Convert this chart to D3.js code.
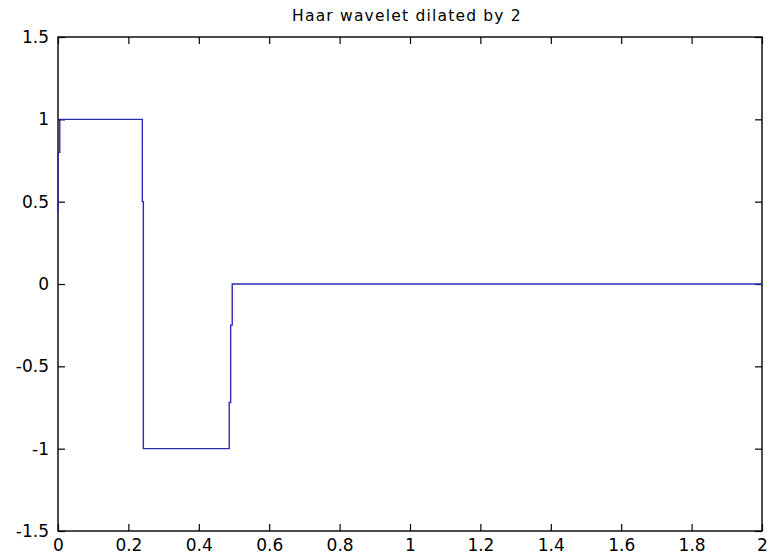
<!DOCTYPE html>
<html>
<head>
<meta charset="utf-8">
<script src="https://cdn.jsdelivr.net/npm/d3@7"></script>
<style>
  body { margin: 0; background: #fff; }
  svg { display: block; }
  .tick text { font-family: "DejaVu Sans", sans-serif; font-size: 17px; fill: #000; }
  .title { font-family: "DejaVu Sans", sans-serif; font-size: 15.5px; letter-spacing: 1.2px; }
</style>
</head>
<body>
<svg id="chart" width="769" height="556"></svg>
<script>
const tValues = [0, 0, 0.005, 0.005, 0.2395, 0.2395, 0.2425, 0.2425, 0.4865, 0.4865, 0.4905, 0.4905, 0.495, 0.495, 2];
const psiValues = [0.43, 0.8, 0.8, 1, 1, 0.5, 0.5, -1, -1, -0.72, -0.72, -0.25, -0.25, 0, 0];

const xTicks = [0, 0.2, 0.4, 0.6, 0.8, 1, 1.2, 1.4, 1.6, 1.8, 2];
const yTicks = [-1.5, -1, -0.5, 0, 0.5, 1, 1.5];
const titleText = "Haar wavelet dilated by 2";

const margin = {left: 58, right: 7, top: 37, bottom: 25};
const svg = d3.select('#chart');
const width = +svg.attr('width'), height = +svg.attr('height');

const x = d3.scaleLinear().domain([0, 2]).range([margin.left, width - margin.right]);
const y = d3.scaleLinear().domain([-1.5, 1.5]).range([height - margin.bottom, margin.top]);

const fmt = d => String(+d.toFixed(1)).replace('\u2212', '-');

// axes: MATLAB style, ticks pointing inward on all four sides
svg.append('g')
    .attr('transform', `translate(0,${y(-1.5)})`)
    .call(d3.axisBottom(x).tickValues(xTicks).tickFormat(fmt).tickSizeInner(-7).tickSizeOuter(0).tickPadding(8));
svg.append('g')
    .attr('transform', `translate(0,${y(1.5)})`)
    .call(d3.axisTop(x).tickValues(xTicks).tickFormat('').tickSizeInner(-7).tickSizeOuter(0));
svg.append('g')
    .attr('transform', `translate(${x(0)},0)`)
    .call(d3.axisLeft(y).tickValues(yTicks).tickFormat(fmt).tickSizeInner(-7).tickSizeOuter(0).tickPadding(9));
svg.append('g')
    .attr('transform', `translate(${x(2)},0)`)
    .call(d3.axisRight(y).tickValues(yTicks).tickFormat('').tickSizeInner(-7).tickSizeOuter(0));

svg.selectAll('.domain').remove();
svg.selectAll('.tick line').attr('stroke', '#000').attr('stroke-width', 1.2);

svg.append('rect')
    .attr('x', x(0)).attr('y', y(1.5))
    .attr('width', x(2) - x(0)).attr('height', y(-1.5) - y(1.5))
    .attr('fill', 'none').attr('stroke', '#000').attr('stroke-width', 1.4);

const line = d3.line()
    .x((d, i) => x(tValues[i]))
    .y((d, i) => y(psiValues[i]));

svg.append('path')
    .datum(psiValues)
    .attr('d', line)
    .attr('fill', 'none')
    .attr('stroke', '#2b2bb3')
    .attr('stroke-width', 1.4);

svg.append('text')
    .attr('class', 'title')
    .attr('x', (x(0) + x(2)) / 2 - 3)
    .attr('y', 21)
    .attr('text-anchor', 'middle')
    .text(titleText);
</script>
</body>
</html>
